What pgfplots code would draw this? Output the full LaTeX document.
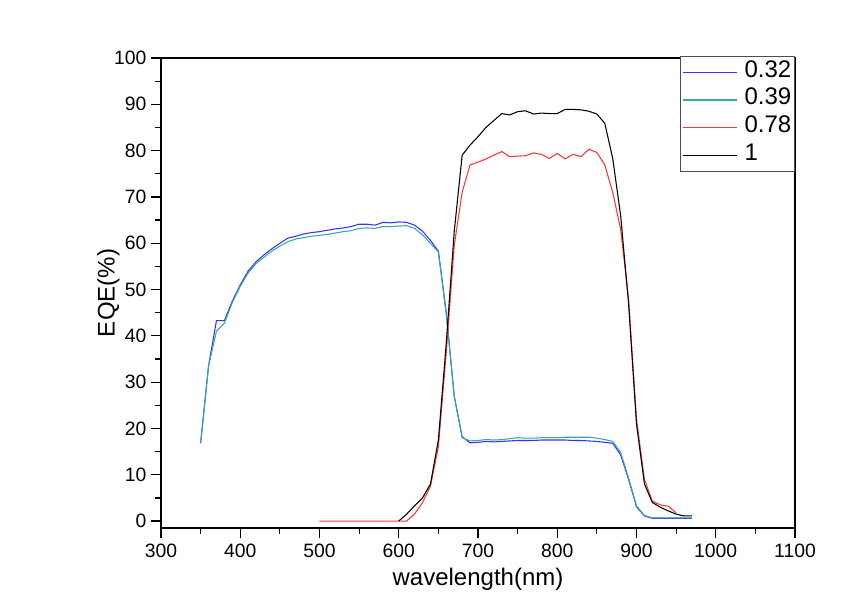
\documentclass[border=0pt]{standalone}
\usepackage{pgfplots}
\pgfplotsset{compat=1.18}
\usepackage{fontspec}
\setmainfont{Liberation Sans}
\definecolor{cblue}{HTML}{3333FF}
\definecolor{cteal}{HTML}{35A8A8}
\definecolor{cred}{HTML}{FF3535}
\begin{document}
\begin{tikzpicture}[x=1pt,y=1pt]
\path[use as bounding box] (-120.75,-56.25) rectangle (518.25,396);
\begin{axis}[
  at={(0,0)}, anchor=south west,
  scale only axis,
  width=475.5pt, height=352.5pt,
  xmin=300, xmax=1100, ymin=-1.5, ymax=100,
  xtick={300,400,...,1100},
  ytick={0,10,...,100},
  minor x tick num=1, minor y tick num=1,
  tick pos=left, tick align=outside,
  major tick length=7.5pt, minor tick length=4.3pt,
  every tick/.style={black, line width=0.9pt},
  axis line style={line width=1pt},
  /pgf/number format/assume math mode=true,
  /pgf/number format/1000 sep={},
  tick label style={font=\fontsize{14.5}{16}\selectfont},
  xticklabel style={yshift=-1pt},
  label style={font=\fontsize{18}{20}\selectfont},
  xlabel={wavelength(nm)},
  ylabel={EQE(\%)},
  xlabel style={yshift=-1pt},
  ylabel style={yshift=-11pt},
  legend style={at={(1,1)}, anchor=north east, yshift=1.5pt,
    draw=black!70, line width=0.6pt, inner sep=1.5pt,
    font=\fontsize{18}{20}\selectfont,
    nodes={inner sep=1pt, text height=13pt, text depth=5.8pt},
    row sep=0pt},
  legend cell align=left,
  legend image code/.code={\draw[#1] (0pt,0pt) -- (41pt,0pt); \path (45pt,0pt);},
  every axis plot/.append style={line width=0.8pt, mark=none},
]
\addplot[cblue] coordinates {
(350,16.8)(360,33.5)(370,43.3)(380,43.3)(390,47.5)(400,51)(410,54)(420,56)(430,57.5)(440,58.8)
(450,60)(460,61.1)(470,61.5)(480,62)(490,62.3)(500,62.5)(510,62.8)(520,63.1)(530,63.3)(540,63.6)
(550,64.1)(560,64.1)(570,63.9)(580,64.5)(590,64.4)(600,64.6)(610,64.5)(620,63.9)(630,62.6)(640,60.6)
(650,58.3)(660,45)(670,27)(680,18.2)(690,16.9)(700,17.0)(710,17.2)(720,17.1)(730,17.2)(740,17.3)
(750,17.4)(760,17.4)(770,17.4)(780,17.5)(790,17.5)(800,17.5)(810,17.5)(820,17.4)(830,17.4)(840,17.3)
(850,17.2)(860,17.0)(870,16.8)(880,14.3)(890,9)(900,3.1)(910,1.1)(920,0.6)(930,0.6)(940,0.6)
(950,0.6)(960,0.6)(970,0.6)};
\addlegendentry{0.32}
\addplot[cteal] coordinates {
(350,16.8)(360,33.5)(370,41)(380,42.7)(390,47.2)(400,50.7)(410,53.6)(420,55.6)(430,57)(440,58.3)
(450,59.4)(460,60.3)(470,60.9)(480,61.2)(490,61.5)(500,61.7)(510,61.9)(520,62.2)(530,62.5)(540,62.7)
(550,63.2)(560,63.3)(570,63.2)(580,63.6)(590,63.6)(600,63.7)(610,63.8)(620,63.2)(630,61.8)(640,60)
(650,58.1)(660,44.5)(670,27)(680,18.0)(690,17.3)(700,17.4)(710,17.6)(720,17.5)(730,17.6)(740,17.8)
(750,18.0)(760,17.9)(770,17.9)(780,18.0)(790,18.0)(800,18.0)(810,18.1)(820,18.1)(830,18.1)(840,18.1)
(850,17.9)(860,17.6)(870,17.2)(880,14.8)(890,9.3)(900,3.3)(910,1.2)(920,0.7)(930,0.7)(940,0.7)
(950,0.7)(960,0.7)(970,0.7)};
\addlegendentry{0.39}
\addplot[cred] coordinates {
(500,0)(510,0)(520,0)(530,0)(540,0)(550,0)(560,0)(570,0)(580,0)(590,0)(600,0)(610,0)
(620,1.5)(630,4)(640,7.5)(650,16)(660,36.5)(670,59.5)(680,71)(690,76.9)(700,77.5)(710,78.2)
(720,79)(730,79.8)(740,78.7)(750,78.8)(760,78.9)(770,79.5)(780,79.2)(790,78.3)(800,79.4)(810,78.2)
(820,79.2)(830,78.7)(840,80.3)(850,79.6)(860,76.9)(870,71)(880,63)(890,48)(900,22)(910,9)
(920,4.3)(930,3.5)(940,3.2)(950,1.8)};
\addlegendentry{0.78}
\addplot[black] coordinates {
(600,0)(610,1.5)(620,3.3)(630,5)(640,8)(650,17.5)(660,38.5)(670,62.5)(680,79)(690,81.2)
(700,83)(710,85)(720,86.5)(730,88)(740,87.7)(750,88.4)(760,88.6)(770,87.9)(780,88.1)(790,88)
(800,88)(810,88.9)(820,88.9)(830,88.8)(840,88.5)(850,87.9)(860,85.9)(870,78.3)(880,66)(890,47)
(900,21)(910,8)(920,4)(930,3)(940,2.2)(950,1.5)(960,1.1)(970,1.1)};
\addlegendentry{1}
\end{axis}
\end{tikzpicture}
\end{document}
